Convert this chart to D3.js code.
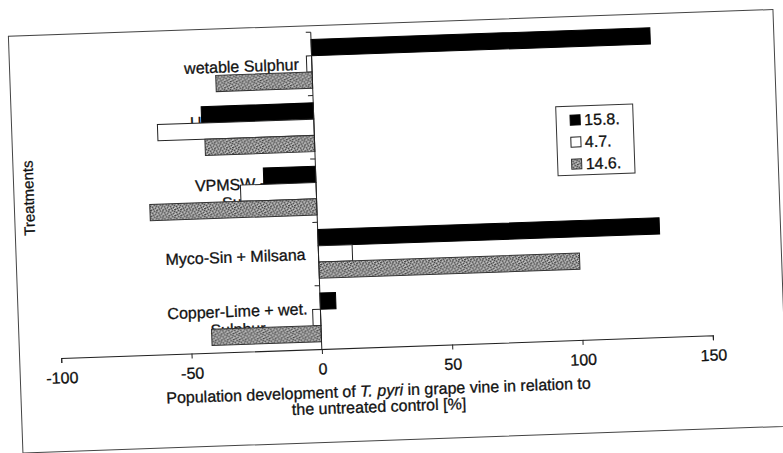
<!DOCTYPE html>
<html>
<head>
<meta charset="utf-8">
<script src="https://cdn.jsdelivr.net/npm/d3@7/dist/d3.min.js"></script>
<style>
  body { margin: 0; background: #fff; }
  text { font-family: 'Liberation Sans', Arial, sans-serif; fill: #111; stroke: #111; stroke-width: 0.3px; }
</style>
</head>
<body>
<script>
'use strict';

var categories = ['wetable Sulphur', 'Ulmasud + wet. Sulphur', 'VPMSW + wet. Sulphur',
                  'Myco-Sin + Milsana', 'Copper-Lime + wet. Sulphur'];
var series     = ['15.8.', '4.7.', '14.6.'];
var values158  = [130, -43, -20, 131, 6];
var values47   = [-2, -60, -29, 13, -3];
var values146  = [-37, -42, -64, 100, -42];
var xTicks     = [-100, -50, 0, 50, 100, 150];

var seriesValues = [values158, values47, values146];

var width  = 783;
var height = 453;

var svg = d3.select('body').append('svg')
    .attr('width', width)
    .attr('height', height);

// stippled grey like the scanned excel fill
var defs = svg.append('defs');
var pat = defs.append('pattern')
    .attr('id', 'stipple')
    .attr('patternUnits', 'userSpaceOnUse')
    .attr('width', 6)
    .attr('height', 6);
pat.append('rect').attr('width', 6).attr('height', 6).attr('fill', '#939393');
[[0, 0], [3, 1], [1, 3], [4, 4], [2, 5], [5, 2], [5, 0]].forEach(function(p) {
  pat.append('rect').attr('x', p[0]).attr('y', p[1]).attr('width', 1).attr('height', 1).attr('fill', '#444');
});
[[1, 1], [4, 0], [0, 4], [3, 3], [5, 5]].forEach(function(p) {
  pat.append('rect').attr('x', p[0]).attr('y', p[1]).attr('width', 1).attr('height', 1).attr('fill', '#d0d0d0');
});

var fills   = ['#000', '#fff', 'url(#stipple)'];
var strokes = ['#000', '#222', '#333'];

// the scan is a little tilted
var g = svg.append('g').attr('transform', 'rotate(-2, 322, 349)');

g.append('rect')
    .attr('x', 19.5).attr('y', 25.5)
    .attr('width', 765).attr('height', 417)
    .attr('fill', 'none')
    .attr('stroke', '#444')
    .attr('stroke-width', 1);

var x = d3.scaleLinear().domain([-100, 150]).range([61, 713]);
var y = d3.scaleBand().domain(categories).range([32, 349]).padding(0);
var yInner = d3.scaleBand().domain(series).range([0, y.bandwidth()]).paddingInner(0).paddingOuter(0.45);

function textWidth(str) {
  var probe = g.append('text').style('font-size', '16px').text(str);
  var w = probe.node().getComputedTextLength();
  probe.remove();
  return w;
}

// category labels (drawn first, bars cover them like in the original)
function wrap(str, maxW) {
  var words = str.split(' ');
  var lines = [];
  var line = '';
  words.forEach(function(w) {
    var test = line ? line + ' ' + w : w;
    if (textWidth(test) > maxW && line) {
      lines.push(line);
      line = w;
    } else {
      line = test;
    }
  });
  lines.push(line);
  return lines;
}

categories.forEach(function(c) {
  var lines = wrap(c, 150);
  var t = g.append('text').style('font-size', '16px').attr('text-anchor', 'middle');
  var maxW = d3.max(lines, textWidth);
  var cx = x(0) - 13 - maxW / 2;
  var cy = y(c) + y.bandwidth() / 2;
  var lh = 18;
  lines.forEach(function(l, i) {
    t.append('tspan')
      .attr('x', cx)
      .attr('y', cy + (i - (lines.length - 1) / 2) * lh)
      .attr('dy', '0.35em')
      .text(l);
  });
});

// bars
series.forEach(function(s, si) {
  g.append('g').selectAll('rect')
    .data(seriesValues[si])
    .enter().append('rect')
      .attr('x', function(d) { return x(Math.min(0, d)); })
      .attr('y', function(d, i) { return y(categories[i]) + yInner(s); })
      .attr('width', function(d) { return Math.abs(x(d) - x(0)); })
      .attr('height', yInner.bandwidth())
      .attr('fill', fills[si])
      .attr('stroke', strokes[si])
      .attr('stroke-width', 1);
});

// x axis
var xAxis = g.append('g')
    .attr('transform', 'translate(0,349)')
    .call(d3.axisBottom(x).tickValues(xTicks).tickFormat(function(d) { return String(d); })
      .tickSize(5).tickSizeOuter(5).tickPadding(9));
xAxis.selectAll('text').style('font-size', '16px').attr('fill', '#111');
xAxis.selectAll('path, line').attr('stroke', '#222');

// y axis line with ticks between the categories
var bounds = categories.map(function(c) { return y(c); });
g.append('line')
    .attr('x1', x(0)).attr('x2', x(0))
    .attr('y1', 32).attr('y2', 349)
    .attr('stroke', '#222');
g.append('g').selectAll('line')
  .data(bounds)
  .enter().append('line')
    .attr('x1', x(0) - 5).attr('x2', x(0))
    .attr('y1', function(d) { return d; })
    .attr('y2', function(d) { return d; })
    .attr('stroke', '#222');

// axis titles
g.append('text')
    .attr('transform', 'translate(34,188) rotate(-90)')
    .attr('text-anchor', 'middle')
    .attr('dy', '0.35em')
    .style('font-size', '15px')
    .text('Treatments');

var xt = g.append('text')
    .attr('text-anchor', 'middle')
    .style('font-size', '16px');
var l1 = xt.append('tspan').attr('x', 377).attr('y', 398);
l1.append('tspan').text('Population development of ');
l1.append('tspan').style('font-style', 'italic').text('T. pyri');
l1.append('tspan').text('  in grape vine in relation to');
xt.append('tspan').attr('x', 377).attr('y', 414).text('the untreated control [%]');

// legend
var legend = g.append('g').attr('transform', 'translate(564,115)');
legend.append('rect')
    .attr('width', 77).attr('height', 69)
    .attr('fill', '#fff')
    .attr('stroke', '#333');
series.forEach(function(s, i) {
  var row = legend.append('g').attr('transform', 'translate(14,' + (14 + i * 22) + ')');
  row.append('rect')
      .attr('x', 0).attr('y', -5)
      .attr('width', 10).attr('height', 10)
      .attr('fill', fills[i])
      .attr('stroke', strokes[i]);
  row.append('text')
      .attr('x', 14)
      .attr('dy', '0.35em')
      .style('font-size', '16px')
      .text(s);
});
</script>
</body>
</html>
